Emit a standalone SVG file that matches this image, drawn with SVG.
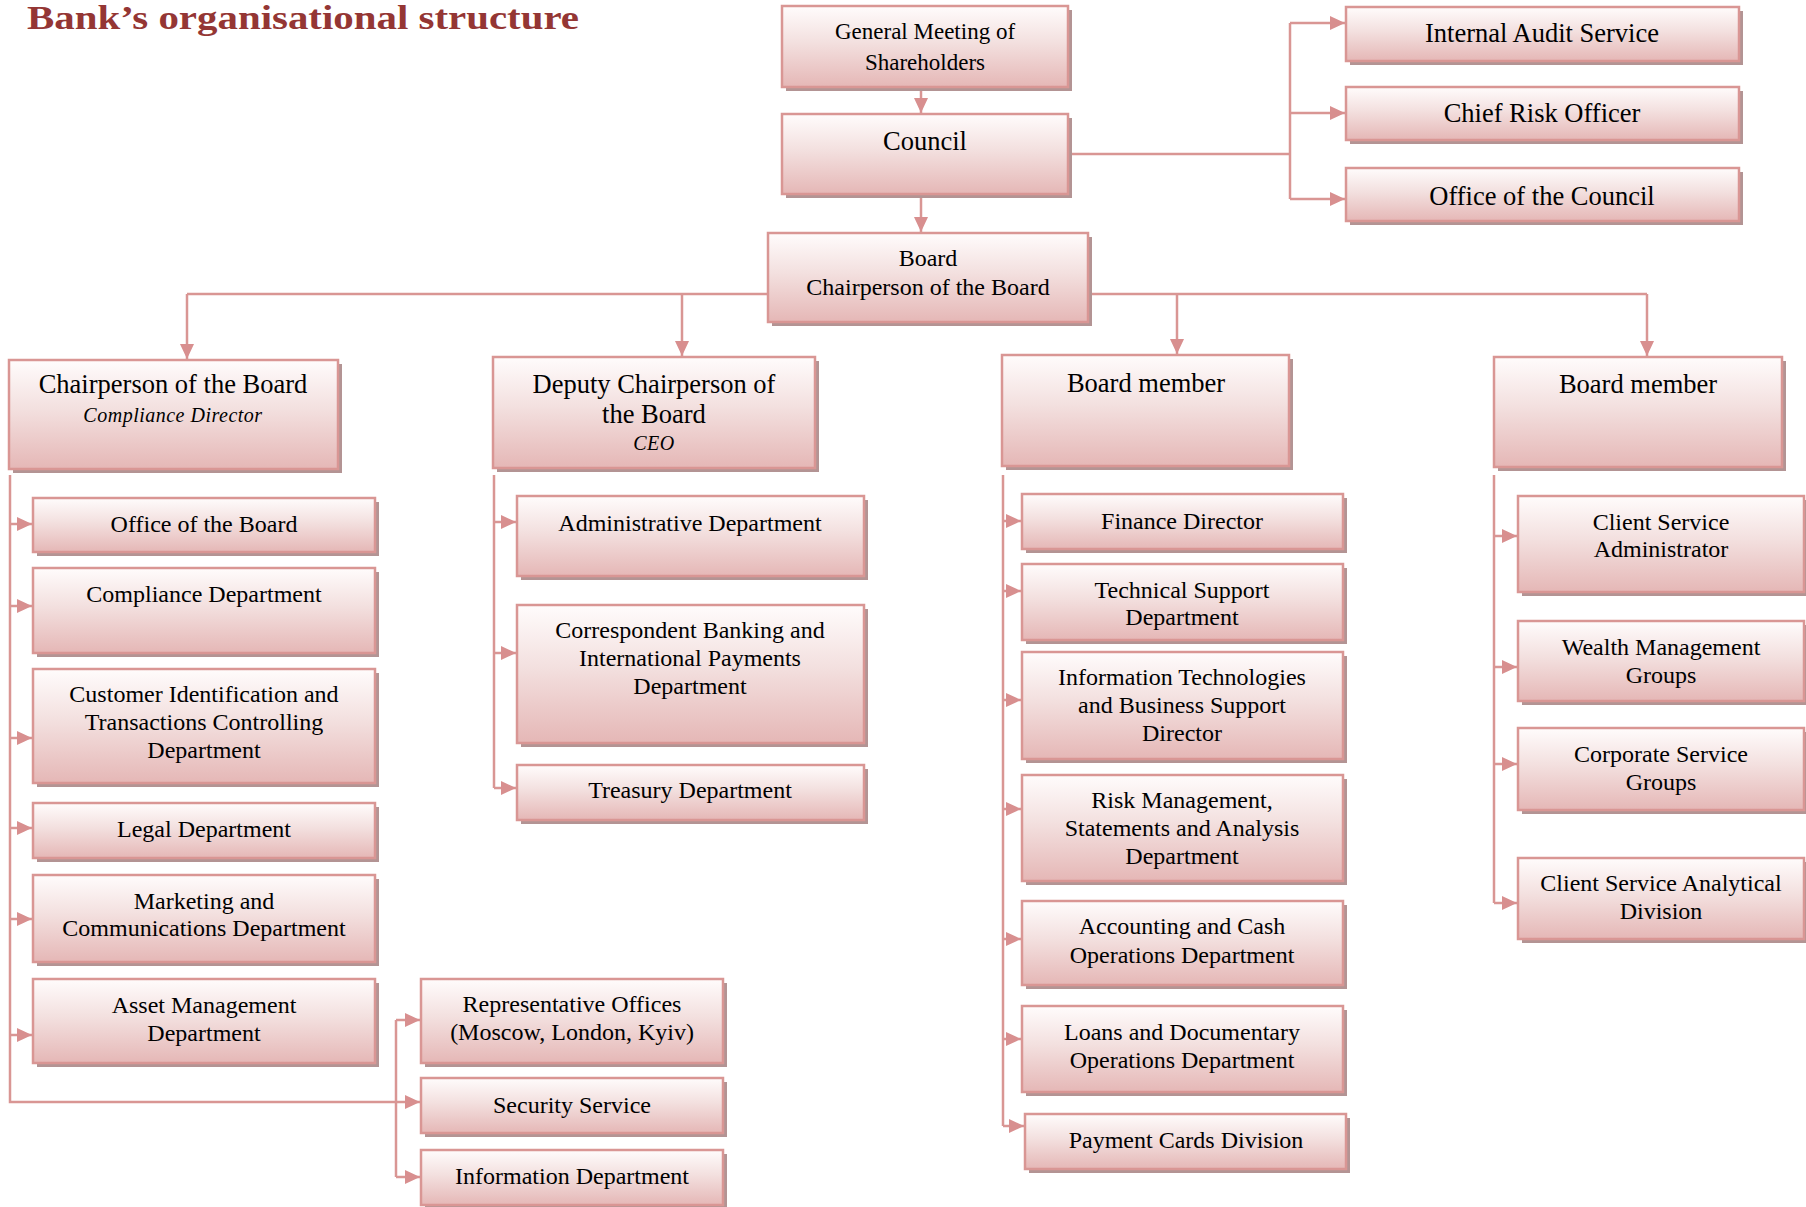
<svg xmlns="http://www.w3.org/2000/svg" width="1806" height="1207" viewBox="0 0 1806 1207">
<defs>
<linearGradient id="g" x1="0" y1="0" x2="0" y2="1">
<stop offset="0" stop-color="#fffcfc"/>
<stop offset="0.45" stop-color="#f3e0df"/>
<stop offset="1" stop-color="#e5b7b6"/>
</linearGradient>
<marker id="a" markerUnits="userSpaceOnUse" markerWidth="16" markerHeight="14" refX="15" refY="7" orient="auto">
<path d="M0,0 L15,7 L0,14 z" fill="#d88f8f"/>
</marker>
<style>
.sh{fill:#b39494}
.b{fill:url(#g);stroke:#d99694;stroke-width:2.5}
.t{font-family:"Liberation Serif","Times New Roman",serif;font-size:24px;fill:#000;text-anchor:middle}
.h{font-size:26.5px}
.i{font-style:italic;font-size:20px;letter-spacing:0.5px}
.c{stroke:#d99694;stroke-width:2.5;fill:none}
.ar{marker-end:url(#a)}
.title{font-family:"Liberation Serif","Times New Roman",serif;font-weight:bold;font-size:33px;fill:#943634}
</style>
</defs>
<rect width="1806" height="1207" fill="#fff"/>
<text class="title" x="27" y="29" textLength="552" lengthAdjust="spacingAndGlyphs">Bank’s organisational structure</text>

<g id="connectors">
<path class="c ar" d="M921,87 V113"/>
<path class="c ar" d="M921,195 V232"/>
<path class="c" d="M1068,154 H1290 M1290,23 V199"/>
<path class="c ar" d="M1290,23 H1345"/>
<path class="c ar" d="M1290,113 H1345"/>
<path class="c ar" d="M1290,199 H1345"/>
<path class="c" d="M187,294 H1647"/>
<path class="c ar" d="M187,294 V359"/>
<path class="c ar" d="M682,294 V356"/>
<path class="c ar" d="M1177,294 V354"/>
<path class="c ar" d="M1647,294 V356"/>
<path class="c ar" d="M10,475 V1102 H420"/>
<path class="c ar" d="M10,524 H32"/>
<path class="c ar" d="M10,606 H32"/>
<path class="c ar" d="M10,738 H32"/>
<path class="c ar" d="M10,828 H32"/>
<path class="c ar" d="M10,919 H32"/>
<path class="c ar" d="M10,1035 H32"/>
<path class="c" d="M396,1020 V1177"/>
<path class="c ar" d="M396,1020 H420"/>
<path class="c ar" d="M396,1177 H420"/>
<path class="c" d="M494,475 V788"/>
<path class="c ar" d="M494,522 H516"/>
<path class="c ar" d="M494,653 H516"/>
<path class="c ar" d="M494,788 H516"/>
<path class="c" d="M1003,475 V1126"/>
<path class="c ar" d="M1003,521 H1021"/>
<path class="c ar" d="M1003,591 H1021"/>
<path class="c ar" d="M1003,700 H1021"/>
<path class="c ar" d="M1003,809 H1021"/>
<path class="c ar" d="M1003,939 H1021"/>
<path class="c ar" d="M1003,1039 H1021"/>
<path class="c ar" d="M1003,1126 H1024"/>
<path class="c" d="M1494,475 V903"/>
<path class="c ar" d="M1494,536 H1517"/>
<path class="c ar" d="M1494,667 H1517"/>
<path class="c ar" d="M1494,764 H1517"/>
<path class="c ar" d="M1494,903 H1517"/>
</g>

<g id="gm"><rect class="sh" x="786" y="10" width="286" height="81"/><rect class="b" x="782" y="6" width="286" height="81"/>
<text class="t" x="925" style="font-size:23px"><tspan x="925" y="39">General Meeting of</tspan><tspan x="925" y="70">Shareholders</tspan></text></g>
<g id="council"><rect class="sh" x="786" y="118" width="286" height="80"/><rect class="b" x="782" y="114" width="286" height="80"/>
<text class="t h" x="925" y="150">Council</text></g>
<g id="board"><rect class="sh" x="772" y="237" width="320" height="89"/><rect class="b" x="768" y="233" width="320" height="89"/>
<text class="t"><tspan x="928" y="266">Board</tspan><tspan x="928" y="295">Chairperson of the Board</tspan></text></g>

<g id="ias"><rect class="sh" x="1350" y="11" width="393" height="54"/><rect class="b" x="1346" y="7" width="393" height="54"/>
<text class="t h" x="1542" y="42">Internal Audit Service</text></g>
<g id="cro"><rect class="sh" x="1350" y="91" width="393" height="53"/><rect class="b" x="1346" y="87" width="393" height="53"/>
<text class="t h" x="1542" y="122">Chief Risk Officer</text></g>
<g id="ooc"><rect class="sh" x="1350" y="172" width="393" height="53"/><rect class="b" x="1346" y="168" width="393" height="53"/>
<text class="t h" x="1542" y="205">Office of the Council</text></g>

<g id="chair"><rect class="sh" x="13" y="364" width="329" height="109"/><rect class="b" x="9" y="360" width="329" height="109"/>
<text class="t h" x="173" y="393">Chairperson of the Board</text><text class="t i" x="173" y="422">Compliance Director</text></g>
<g id="deputy"><rect class="sh" x="497" y="361" width="322" height="111"/><rect class="b" x="493" y="357" width="322" height="111"/>
<text class="t h"><tspan x="654" y="393">Deputy Chairperson of</tspan><tspan x="654" y="423">the Board</tspan></text><text class="t i" x="654" y="450">CEO</text></g>
<g id="bm1"><rect class="sh" x="1006" y="359" width="287" height="111"/><rect class="b" x="1002" y="355" width="287" height="111"/>
<text class="t h" x="1146" y="392">Board member</text></g>
<g id="bm2"><rect class="sh" x="1498" y="361" width="288" height="110"/><rect class="b" x="1494" y="357" width="288" height="110"/>
<text class="t h" x="1638" y="393">Board member</text></g>

<g id="office-board"><rect class="sh" x="37" y="502" width="342" height="54"/><rect class="b" x="33" y="498" width="342" height="54"/>
<text class="t" x="204" y="532">Office of the Board</text></g>
<g id="compliance-dept"><rect class="sh" x="37" y="572" width="342" height="85"/><rect class="b" x="33" y="568" width="342" height="85"/>
<text class="t" x="204" y="602">Compliance Department</text></g>
<g id="customer-id"><rect class="sh" x="37" y="673" width="342" height="114"/><rect class="b" x="33" y="669" width="342" height="114"/>
<text class="t"><tspan x="204" y="702">Customer Identification and</tspan><tspan x="204" y="730">Transactions Controlling</tspan><tspan x="204" y="758">Department</tspan></text></g>
<g id="legal"><rect class="sh" x="37" y="807" width="342" height="55"/><rect class="b" x="33" y="803" width="342" height="55"/>
<text class="t" x="204" y="837">Legal Department</text></g>
<g id="marketing"><rect class="sh" x="37" y="879" width="342" height="87"/><rect class="b" x="33" y="875" width="342" height="87"/>
<text class="t"><tspan x="204" y="909">Marketing and</tspan><tspan x="204" y="936">Communications Department</tspan></text></g>
<g id="asset"><rect class="sh" x="37" y="983" width="342" height="84"/><rect class="b" x="33" y="979" width="342" height="84"/>
<text class="t"><tspan x="204" y="1013">Asset Management</tspan><tspan x="204" y="1041">Department</tspan></text></g>

<g id="rep-offices"><rect class="sh" x="425" y="983" width="302" height="84"/><rect class="b" x="421" y="979" width="302" height="84"/>
<text class="t"><tspan x="572" y="1012">Representative Offices</tspan><tspan x="572" y="1040">(Moscow, London, Kyiv)</tspan></text></g>
<g id="security"><rect class="sh" x="425" y="1082" width="302" height="55"/><rect class="b" x="421" y="1078" width="302" height="55"/>
<text class="t" x="572" y="1113">Security Service</text></g>
<g id="info-dept"><rect class="sh" x="425" y="1154" width="302" height="55"/><rect class="b" x="421" y="1150" width="302" height="55"/>
<text class="t" x="572" y="1184">Information Department</text></g>

<g id="admin"><rect class="sh" x="521" y="500" width="347" height="80"/><rect class="b" x="517" y="496" width="347" height="80"/>
<text class="t" x="690" y="531">Administrative Department</text></g>
<g id="corr"><rect class="sh" x="521" y="609" width="347" height="138"/><rect class="b" x="517" y="605" width="347" height="138"/>
<text class="t"><tspan x="690" y="638">Correspondent Banking and</tspan><tspan x="690" y="666">International Payments</tspan><tspan x="690" y="694">Department</tspan></text></g>
<g id="treasury"><rect class="sh" x="521" y="769" width="347" height="55"/><rect class="b" x="517" y="765" width="347" height="55"/>
<text class="t" x="690" y="798">Treasury Department</text></g>

<g id="finance"><rect class="sh" x="1026" y="498" width="321" height="55"/><rect class="b" x="1022" y="494" width="321" height="55"/>
<text class="t" x="1182" y="529">Finance Director</text></g>
<g id="tech"><rect class="sh" x="1026" y="568" width="321" height="76"/><rect class="b" x="1022" y="564" width="321" height="76"/>
<text class="t"><tspan x="1182" y="598">Technical Support</tspan><tspan x="1182" y="625">Department</tspan></text></g>
<g id="it"><rect class="sh" x="1026" y="656" width="321" height="107"/><rect class="b" x="1022" y="652" width="321" height="107"/>
<text class="t"><tspan x="1182" y="685">Information Technologies</tspan><tspan x="1182" y="713">and Business Support</tspan><tspan x="1182" y="741">Director</tspan></text></g>
<g id="risk"><rect class="sh" x="1026" y="779" width="321" height="106"/><rect class="b" x="1022" y="775" width="321" height="106"/>
<text class="t"><tspan x="1182" y="808">Risk Management,</tspan><tspan x="1182" y="836">Statements and Analysis</tspan><tspan x="1182" y="864">Department</tspan></text></g>
<g id="accounting"><rect class="sh" x="1026" y="905" width="321" height="84"/><rect class="b" x="1022" y="901" width="321" height="84"/>
<text class="t"><tspan x="1182" y="934">Accounting and Cash</tspan><tspan x="1182" y="963">Operations Department</tspan></text></g>
<g id="loans"><rect class="sh" x="1026" y="1010" width="321" height="86"/><rect class="b" x="1022" y="1006" width="321" height="86"/>
<text class="t"><tspan x="1182" y="1040">Loans and Documentary</tspan><tspan x="1182" y="1068">Operations Department</tspan></text></g>
<g id="payment"><rect class="sh" x="1029" y="1118" width="321" height="55"/><rect class="b" x="1025" y="1114" width="321" height="55"/>
<text class="t" x="1186" y="1148">Payment Cards Division</text></g>

<g id="csa"><rect class="sh" x="1522" y="500" width="286" height="96"/><rect class="b" x="1518" y="496" width="286" height="96"/>
<text class="t"><tspan x="1661" y="530">Client Service</tspan><tspan x="1661" y="557">Administrator</tspan></text></g>
<g id="wealth"><rect class="sh" x="1522" y="625" width="286" height="80"/><rect class="b" x="1518" y="621" width="286" height="80"/>
<text class="t"><tspan x="1661" y="655">Wealth Management</tspan><tspan x="1661" y="683">Groups</tspan></text></g>
<g id="corporate"><rect class="sh" x="1522" y="732" width="286" height="82"/><rect class="b" x="1518" y="728" width="286" height="82"/>
<text class="t"><tspan x="1661" y="762">Corporate Service</tspan><tspan x="1661" y="790">Groups</tspan></text></g>
<g id="csad"><rect class="sh" x="1522" y="862" width="286" height="81"/><rect class="b" x="1518" y="858" width="286" height="81"/>
<text class="t"><tspan x="1661" y="891">Client Service Analytical</tspan><tspan x="1661" y="919">Division</tspan></text></g>
</svg>
